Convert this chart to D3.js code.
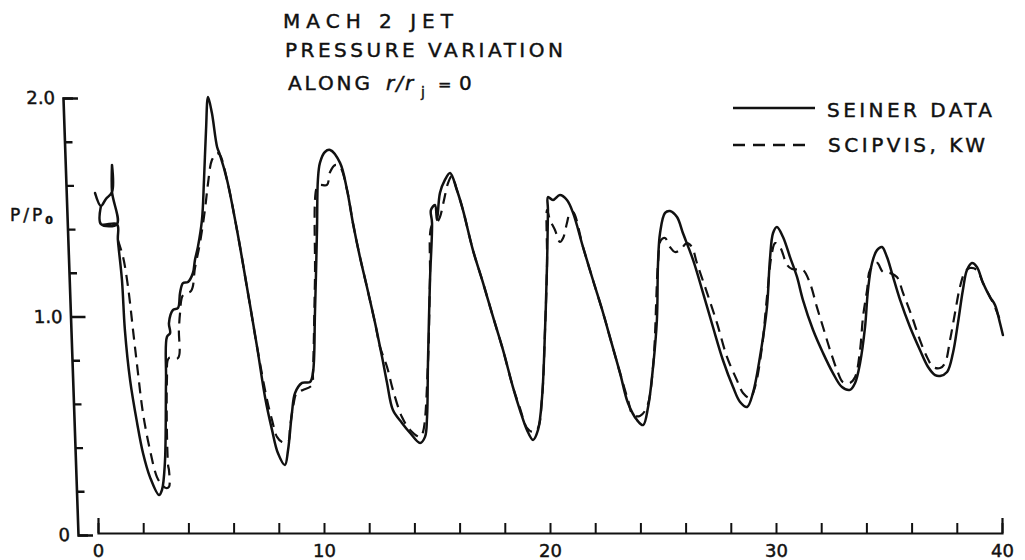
<!DOCTYPE html>
<html>
<head>
<meta charset="utf-8">
<script src="https://cdn.jsdelivr.net/npm/d3@7"></script>
<style>
  html, body { margin: 0; padding: 0; background: #fff; }
  svg { display: block; }
  text { font-family: "DejaVu Sans", sans-serif; fill: #111; stroke: #111; stroke-width: 0.45px; }
</style>
</head>
<body>
<svg id="chart" width="1025" height="560"></svg>
<script>
// ---------------- data (x = distance, p = P/P0) ----------------
const titleLines = ["MACH 2 JET", "PRESSURE VARIATION"];
const seriesNames = ["SEINER DATA", "SCIPVIS, KW"];
const xTickValues = [0,2,4,6,8,10,12,14,16,18,20,22,24,26,28,30,32,34,36,38,40];
const xTickLabels = [0, 10, 20, 30, 40];
const yMajorTicks = [0, 1.0, 2.0];
const yMinorTicks = [0.2, 0.4, 0.6, 0.8, 1.2, 1.4, 1.6, 1.8];

const seinerX = [-0.13,0.13,0.35,0.62,0.62,0.62,0.84,0.13,0.13,0.13,0.84,0.88,1.06,1.19,1.42,1.73,1.99,2.30,2.70,2.83,2.96,3.01,3.05,3.19,3.14,3.32,3.54,3.63,3.76,3.98,4.20,4.29,4.42,4.60,4.69,4.78,4.87,5.04,5.27,5.40,5.71,6.15,6.59,7.04,7.39,7.70,7.96,8.27,8.41,8.58,8.72,9.03,9.38,9.51,9.60,9.69,9.73,9.82,10.04,10.27,10.71,11.02,11.28,11.59,11.90,12.26,12.57,12.79,13.05,13.45,13.81,14.25,14.47,14.56,14.60,14.69,14.78,14.73,14.91,15.00,15.13,15.35,15.58,15.88,16.15,16.59,17.04,17.48,17.92,18.36,18.67,18.98,19.25,19.47,19.65,19.78,19.87,19.91,19.91,20.13,20.44,20.75,21.02,21.46,21.90,22.35,22.65,23.10,23.45,23.85,24.12,24.34,24.56,24.73,24.78,24.87,25.09,25.31,25.62,25.88,26.33,26.77,27.21,27.65,28.10,28.41,28.72,28.98,29.29,29.60,29.73,29.87,30.04,30.31,30.62,30.93,31.19,31.64,32.08,32.52,32.92,33.27,33.50,33.72,33.94,34.07,34.25,34.47,34.69,34.91,35.13,35.49,35.93,36.37,36.73,37.04,37.26,37.57,37.83,38.05,38.27,38.45,38.67,38.89,39.16,39.47,39.69,39.91,40.04];
const seinerP = [1.565,1.506,1.538,1.570,1.693,1.570,1.423,1.423,1.506,1.423,1.423,1.350,1.167,0.938,0.709,0.513,0.375,0.265,0.183,0.206,0.330,0.709,0.906,0.924,0.970,1.030,1.039,1.108,1.153,1.158,1.199,1.259,1.318,1.442,1.625,1.854,2.005,1.931,1.776,1.739,1.625,1.396,1.135,0.860,0.632,0.481,0.375,0.320,0.389,0.558,0.650,0.696,0.700,0.741,1.016,1.396,1.625,1.703,1.753,1.762,1.703,1.579,1.428,1.272,1.135,0.970,0.815,0.696,0.572,0.513,0.467,0.421,0.449,0.540,0.787,1.167,1.428,1.487,1.510,1.442,1.565,1.625,1.657,1.579,1.487,1.304,1.153,0.998,0.847,0.677,0.572,0.481,0.435,0.481,0.632,0.938,1.245,1.487,1.547,1.533,1.556,1.533,1.474,1.318,1.167,1.016,0.906,0.741,0.604,0.526,0.503,0.586,0.769,0.984,1.245,1.382,1.474,1.483,1.455,1.382,1.259,1.108,0.952,0.801,0.677,0.609,0.586,0.650,0.815,1.043,1.259,1.382,1.410,1.364,1.272,1.181,1.076,0.938,0.833,0.741,0.677,0.664,0.696,0.787,0.952,1.121,1.245,1.304,1.318,1.272,1.199,1.076,0.952,0.847,0.769,0.732,0.728,0.746,0.833,0.970,1.121,1.213,1.245,1.227,1.153,1.089,1.053,0.970,0.915];

const scipvisX = [0.88,1.11,1.33,1.55,1.77,1.99,2.30,2.61,2.83,3.01,3.14,3.14,3.10,3.05,3.14,3.54,3.58,3.63,3.76,4.12,4.29,4.51,4.73,4.87,5.04,5.27,5.40,5.71,6.15,6.59,7.04,7.48,7.70,7.92,8.14,8.41,8.50,8.63,8.81,9.07,9.47,9.51,9.60,9.69,9.82,10.13,10.27,10.49,10.71,11.02,11.28,11.59,11.90,12.26,12.48,12.79,13.05,13.45,13.81,14.25,14.38,14.60,14.69,14.78,15.00,15.13,15.31,15.49,15.66,15.88,16.15,16.59,17.04,17.48,17.92,18.36,18.67,18.98,19.25,19.47,19.65,19.78,19.87,19.87,20.00,20.22,20.44,20.58,20.75,20.88,21.02,21.46,21.90,22.35,22.65,23.10,23.45,23.67,23.98,24.29,24.56,24.78,24.91,25.09,25.31,25.53,25.75,26.06,26.28,26.50,26.95,27.39,27.83,28.27,28.54,28.85,29.07,29.38,29.60,29.82,29.96,30.18,30.49,30.71,31.19,31.50,31.81,32.08,32.39,32.70,32.96,33.27,33.50,33.72,33.85,34.03,34.16,34.47,34.73,35.04,35.35,35.62,36.02,36.37,36.68,36.95,37.26,37.48,37.70,37.92,38.14,38.36,38.58,38.89,39.16,39.47,39.69,39.91];
const scipvisP = [1.350,1.272,1.135,0.938,0.741,0.558,0.389,0.265,0.229,0.215,0.220,0.297,0.320,0.709,0.810,0.810,0.938,1.016,1.098,1.117,1.222,1.336,1.487,1.611,1.716,1.748,1.739,1.625,1.396,1.135,0.860,0.618,0.526,0.449,0.426,0.426,0.494,0.586,0.654,0.664,0.686,0.741,1.167,1.593,1.602,1.602,1.661,1.693,1.684,1.579,1.428,1.272,1.135,0.970,0.860,0.769,0.664,0.540,0.481,0.449,0.471,0.787,1.167,1.419,1.432,1.455,1.533,1.611,1.643,1.579,1.487,1.304,1.153,0.998,0.847,0.677,0.581,0.490,0.471,0.490,0.632,0.938,1.245,1.487,1.442,1.396,1.341,1.359,1.428,1.474,1.478,1.318,1.167,1.016,0.906,0.741,0.618,0.549,0.545,0.586,0.769,1.245,1.350,1.359,1.318,1.295,1.304,1.336,1.318,1.245,1.108,0.970,0.815,0.709,0.650,0.627,0.677,0.860,1.089,1.291,1.336,1.318,1.236,1.217,1.213,1.153,1.043,0.952,0.847,0.755,0.700,0.696,0.723,0.847,0.998,1.121,1.213,1.245,1.204,1.199,1.181,1.108,0.998,0.892,0.815,0.769,0.764,0.787,0.892,1.016,1.135,1.204,1.222,1.213,1.153,1.089,1.043,0.984];

// ---------------- drawing ----------------
const svg = d3.select("#chart");
const ink = "#111";

const x = d3.scaleLinear().domain([0, 40]).range([98, 1002]);
const y = d3.scaleLinear().domain([0, 2]).range([535, 98]);

// title
const title = svg.append("g");
title.append("text").attr("x", 283).attr("y", 28).attr("font-size", 20)
  .attr("textLength", 170).attr("lengthAdjust", "spacing").text(titleLines[0]);
title.append("text").attr("x", 285).attr("y", 57).attr("font-size", 20)
  .attr("textLength", 278).attr("lengthAdjust", "spacing").text(titleLines[1]);
title.append("text").attr("x", 288).attr("y", 90).attr("font-size", 20)
  .attr("textLength", 82).attr("lengthAdjust", "spacing").text("ALONG");
title.append("text").attr("x", 386).attr("y", 90).attr("font-size", 20)
  .attr("font-style", "italic").attr("letter-spacing", 2).text("r/r");
title.append("text").attr("x", 421).attr("y", 97).attr("font-size", 14).text("j");
title.append("text").attr("x", 438).attr("y", 90).attr("font-size", 16).text("=");
title.append("text").attr("x", 459).attr("y", 90).attr("font-size", 20).text("0");

// x axis (ticks point up, bracket ends)
const xAxis = d3.axisBottom(x)
  .tickValues(xTickValues)
  .tickSizeInner(-10)
  .tickSizeOuter(-15)
  .tickPadding(11)
  .tickFormat(d => xTickLabels.includes(d) ? String(d) : "");
const gx = svg.append("g").attr("transform", "translate(0,533)").call(xAxis);
gx.select(".domain").attr("stroke", ink).attr("stroke-width", 2.2);
gx.selectAll(".tick line").attr("stroke", ink).attr("stroke-width", 2);
gx.selectAll(".tick text").attr("font-size", 18).attr("fill", ink)
  .style("font-family", "'DejaVu Sans', sans-serif");

// y axis (slightly slanted as in the scanned original)
const gyWrap = svg.append("g").attr("transform", "translate(59.6,0) skewX(1.97)");
const yMinor = d3.axisLeft(y).tickValues(yMinorTicks).tickSize(-8).tickFormat("");
const gyMinor = gyWrap.append("g").call(yMinor);
gyMinor.select(".domain").remove();
gyMinor.selectAll(".tick line").attr("stroke", ink).attr("stroke-width", 2.4);

const yMajor = d3.axisLeft(y).tickValues(yMajorTicks)
  .tickSizeInner(-15).tickSizeOuter(-10).tickPadding(8)
  .tickFormat(d => d === 0 ? "0" : d.toFixed(1));
const gy = gyWrap.append("g").call(yMajor);
gy.select(".domain").attr("stroke", ink).attr("stroke-width", 2.6);
gy.selectAll(".tick line").attr("stroke", ink).attr("stroke-width", 2.4);
gy.selectAll(".tick text").attr("font-size", 18).attr("fill", ink)
  .style("font-family", "'DejaVu Sans', sans-serif");

// y label P/P0
const yl = svg.append("text").attr("x", 10).attr("y", 221).attr("font-size", 17)
  .attr("letter-spacing", 3).text("P/P");
yl.append("tspan").attr("dy", 3).attr("font-size", 11).attr("font-weight", "bold").text("0");

// curves
const line = d3.line().x(d => x(d[0])).y(d => y(d[1])).curve(d3.curveCatmullRom.alpha(0.5));
const seiner = seinerX.map((v, i) => [v, seinerP[i]]);
const scipvis = scipvisX.map((v, i) => [v, scipvisP[i]]);

svg.append("path").datum(scipvis).attr("d", line)
  .attr("fill", "none").attr("stroke", ink).attr("stroke-width", 2.2)
  .attr("stroke-dasharray", "11,7").attr("stroke-linejoin", "round");
svg.append("path").datum(seiner).attr("d", line)
  .attr("fill", "none").attr("stroke", ink).attr("stroke-width", 2.5)
  .attr("stroke-linejoin", "round").attr("stroke-linecap", "round");

// legend
const lg = svg.append("g");
lg.append("line").attr("x1", 733).attr("x2", 815).attr("y1", 108).attr("y2", 108)
  .attr("stroke", ink).attr("stroke-width", 2.4);
lg.append("text").attr("x", 827).attr("y", 117).attr("font-size", 20)
  .attr("textLength", 165).attr("lengthAdjust", "spacing").text(seriesNames[0]);
lg.append("line").attr("x1", 733).attr("x2", 812).attr("y1", 145).attr("y2", 145)
  .attr("stroke", ink).attr("stroke-width", 2.4).attr("stroke-dasharray", "12,8");
lg.append("text").attr("x", 828).attr("y", 152).attr("font-size", 20)
  .attr("textLength", 157).attr("lengthAdjust", "spacing").text(seriesNames[1]);
</script>
</body>
</html>
